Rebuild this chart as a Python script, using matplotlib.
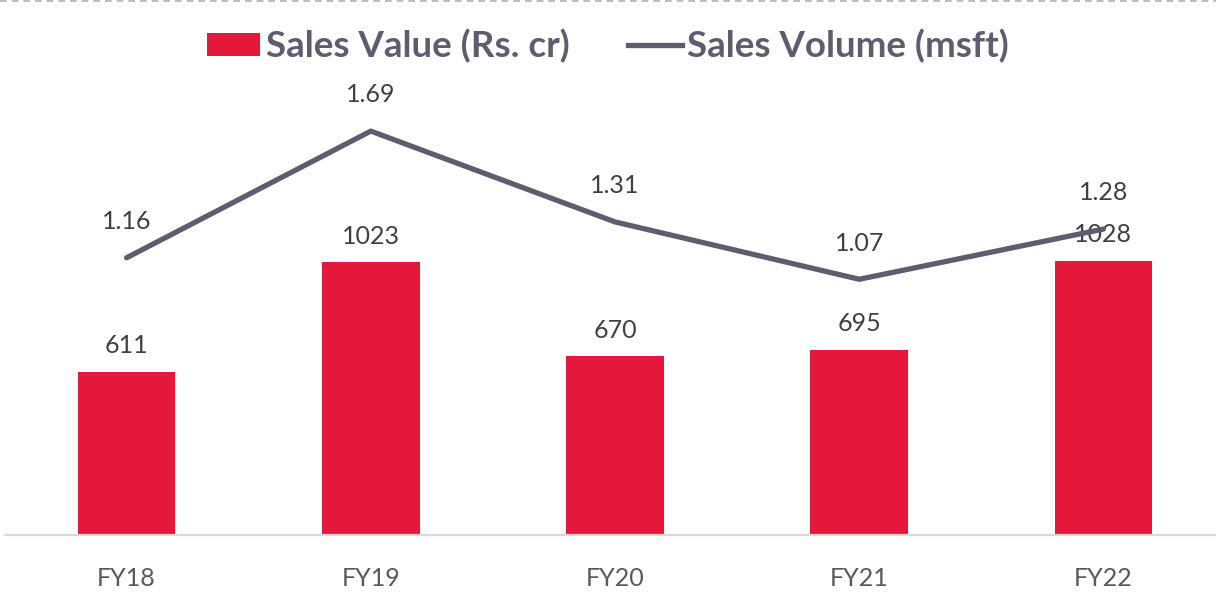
import matplotlib
matplotlib.use("Agg")
import matplotlib.pyplot as plt
from matplotlib.lines import Line2D
from matplotlib.patches import Patch

categories = ["FY18", "FY19", "FY20", "FY21", "FY22"]
sales_value = [611, 1023, 670, 695, 1028]
sales_volume = [1.16, 1.69, 1.31, 1.07, 1.28]
value_labels = ["611", "1023", "670", "695", "1028"]
volume_labels = ["1.16", "1.69", "1.31", "1.07", "1.28"]

plt.rcParams['font.family'] = ['Lato', 'DejaVu Sans']

W, H = 1216, 598
fig = plt.figure(figsize=(W / 100, H / 100), dpi=100)
fig.patch.set_facecolor("white")

left, right, bottom, top = 5, 1216, 535, 90
ax = fig.add_axes([left / W, (H - bottom) / H, (right - left) / W, (bottom - top) / H])
ax2 = ax.twinx()

bar_color = "#E5173A"
line_color = "#5E5D6F"
x = list(range(len(categories)))

ax.bar(x, sales_value, width=0.4, color=bar_color, zorder=2)
ax.set_xlim(-0.498, 4.461)
ax.set_ylim(0, 1670)
ax2.set_ylim(0, 445 / 239)

ax2.plot(x, sales_volume, color=line_color, lw=3.8, solid_capstyle="round", zorder=3)

for xi, v, lab in zip(x, sales_value, value_labels):
    ax.annotate(lab, (xi, v), xytext=(0, 19), textcoords="offset points",
                ha="center", va="center", fontsize=18, color="#404040")
for xi, v, lab in zip(x, sales_volume, volume_labels):
    ax2.annotate(lab, (xi, v), xytext=(0, 26), textcoords="offset points",
                 ha="center", va="center", fontsize=18, color="#404040")

for a in (ax, ax2):
    for s in ("top", "right", "left"):
        a.spines[s].set_visible(False)
    a.set_yticks([])
ax2.spines["bottom"].set_visible(False)
ax.spines["bottom"].set_color("#D9D9D9")
ax.spines["bottom"].set_linewidth(1.6)
ax.set_xticks(x)
ax.set_xticklabels(categories, fontsize=18, color="#595959")
ax.tick_params(axis="x", length=0, pad=23)

handles = [Patch(facecolor=bar_color, edgecolor="none"),
           Line2D([0], [0], color=line_color, lw=3.8)]
leg = fig.legend(handles, ["Sales Value (Rs. cr)", "Sales Volume (msft)"],
                 loc="center", bbox_to_anchor=(0.5, 1 - 46 / H), ncol=2,
                 frameon=False, handlelength=1.45, handleheight=0.6,
                 handletextpad=0.15, columnspacing=1.6,
                 prop={"size": 26.5, "weight": "bold"})
for t in leg.get_texts():
    t.set_color("#5E5D6F")

fig.add_artist(Line2D([0, 1], [1 - 1 / H, 1 - 1 / H], transform=fig.transFigure,
                      color="#B0B0B0", lw=1.2, ls=(0, (4, 3))))

fig.savefig("out.png", dpi=100, facecolor="white")
